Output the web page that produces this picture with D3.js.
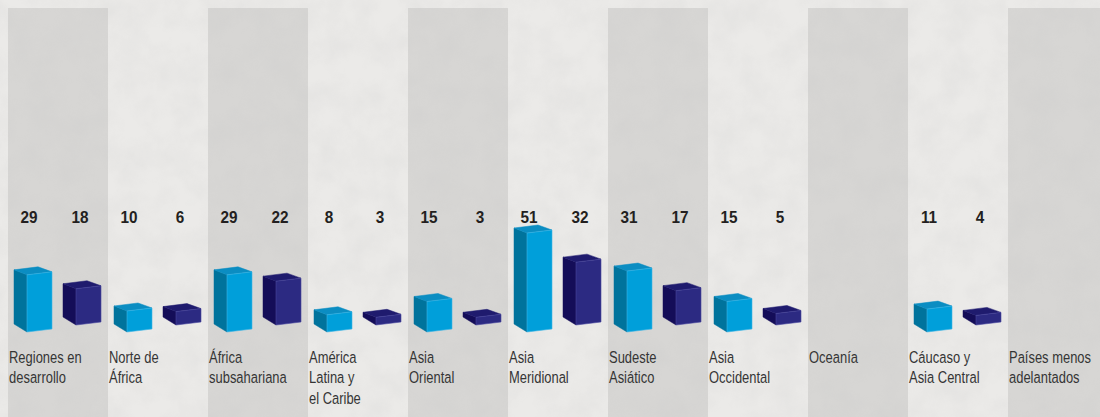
<!DOCTYPE html>
<html>
<head>
<meta charset="utf-8">
<script src="https://cdn.jsdelivr.net/npm/d3@7"></script>
<style>
  html, body { margin: 0; padding: 0; background: #ebeae8; }
  svg { display: block; }
</style>
</head>
<body>
<svg id="chart" width="1100" height="417"></svg>
<script>
// Regions, in display order
const categories = [
  "Regiones en desarrollo", "Norte de África", "África subsahariana",
  "América Latina y el Caribe", "Asia Oriental", "Asia Meridional",
  "Sudeste Asiático", "Asia Occidental", "Oceanía",
  "Cáucaso y Asia Central", "Países menos adelantados"
];
// Label line breaks for each region
const labelLines = [
  ["Regiones en", "desarrollo"], ["Norte de", "África"], ["África", "subsahariana"],
  ["América", "Latina y", "el Caribe"], ["Asia", "Oriental"], ["Asia", "Meridional"],
  ["Sudeste", "Asiático"], ["Asia", "Occidental"], ["Oceanía"],
  ["Cáucaso y", "Asia Central"], ["Países menos", "adelantados"]
];
// Two series (light blue first, dark blue second); null = no data
const seriesA = [29, 10, 29, 8, 15, 51, 31, 15, null, 11, null];
const seriesB = [18, 6, 22, 3, 3, 32, 17, 5, null, 4, null];

const W = 1100, H = 417;
const svg = d3.select("#chart");

// paper-like grain
const defs = svg.append("defs");
const f = defs.append("filter").attr("id", "grain")
  .attr("x", 0).attr("y", 0).attr("width", "100%").attr("height", "100%");
f.append("feTurbulence").attr("type", "fractalNoise")
  .attr("baseFrequency", "0.035").attr("numOctaves", 4).attr("seed", 7).attr("result", "n");
f.append("feColorMatrix").attr("type", "matrix")
  .attr("values", "0 0 0 0 0.55  0 0 0 0 0.55  0 0 0 0 0.55  0 0 0 -1.1 0.75");

svg.append("rect").attr("width", W).attr("height", H).attr("fill", "#ebeae8");

const x = d3.scaleBand().domain(categories).range([8, 1108]).paddingInner(0).paddingOuter(0);
const bw = x.bandwidth();

// alternating shaded columns
svg.append("g").selectAll("rect")
  .data(categories.filter((c, i) => i % 2 === 0))
  .join("rect")
  .attr("x", d => x(d)).attr("y", 8)
  .attr("width", bw).attr("height", H - 8)
  .attr("fill", "#d7d6d4");

svg.append("rect").attr("width", W).attr("height", H)
  .attr("filter", "url(#grain)").attr("opacity", 0.25);

// bar height scale
const h = d3.scaleLinear().domain([0, 51]).range([2, 99]);

const series = [
  { values: seriesA, offset: 19, base: 332, labelDx: 2, front: "#009fda", side: "#00739c", top: "#0b8dc2", edge: "#3cb6e6" },
  { values: seriesB, offset: 68, base: 325, labelDx: 4, front: "#2c2a82", side: "#140d58", top: "#1f1b6e", edge: "#4a48a0" }
];

const FW = 25;       // front face width
const DX = -13;      // depth offset (x)
const DYT = -5;      // depth offset at top
const DYB = -8;      // depth offset at bottom
const TILT = -3;     // rise of front face across its width

const bars = svg.append("g");
const valueLabels = svg.append("g");
series.forEach(s => {
  const data = categories.map((c, i) => ({ c, v: s.values[i] })).filter(d => d.v != null);
  const g = bars.selectAll(null).data(data).join("g");
  const geom = d => {
    const x0 = x(d.c) + s.offset, by = s.base, hh = h(d.v);
    return {
      flb: [x0, by], frb: [x0 + FW, by + TILT],
      flt: [x0, by - hh], frt: [x0 + FW, by + TILT - hh],
      blb: [x0 + DX, by + DYB], blt: [x0 + DX, by - hh + DYT],
      brt: [x0 + FW + DX - 1, by + TILT - hh + DYT]
    };
  };
  const pts = a => a.map(p => p.join(",")).join(" ");
  g.append("polygon").attr("fill", s.side).attr("stroke", s.side).attr("stroke-width", 0.5)
    .attr("points", d => { const q = geom(d); return pts([q.flb, q.blb, q.blt, q.flt]); });
  g.append("polygon").attr("fill", s.top).attr("stroke", s.top).attr("stroke-width", 0.5)
    .attr("points", d => { const q = geom(d); return pts([q.flt, q.blt, q.brt, q.frt]); });
  g.append("polygon").attr("fill", s.front).attr("stroke", s.edge).attr("stroke-width", 0.6)
    .attr("points", d => { const q = geom(d); return pts([q.flb, q.flt, q.frt, q.frb]); });

  // value labels (condensed bold)
  valueLabels.selectAll(null).data(data).join("text")
    .attr("transform", d => `translate(${x(d.c) + s.offset + s.labelDx},223) scale(0.9,1)`)
    .attr("text-anchor", "middle")
    .attr("font-family", "'Liberation Sans', Arial, sans-serif")
    .attr("font-weight", "bold")
    .attr("font-size", 17)
    .attr("fill", "#231f20")
    .text(d => d.v);
});

// category labels (condensed)
const labels = svg.append("g").selectAll("text").data(categories).join("text")
  .attr("transform", d => `translate(${x(d) + 1},363) scale(0.785,1)`)
  .attr("font-family", "'Liberation Sans', Arial, sans-serif")
  .attr("font-size", 16.5)
  .attr("fill", "#353535");
labels.selectAll("tspan").data((d, i) => labelLines[i]).join("tspan")
  .attr("x", 0)
  .attr("dy", (d, j) => j === 0 ? 0 : 20.5)
  .text(d => d);
</script>
</body>
</html>
